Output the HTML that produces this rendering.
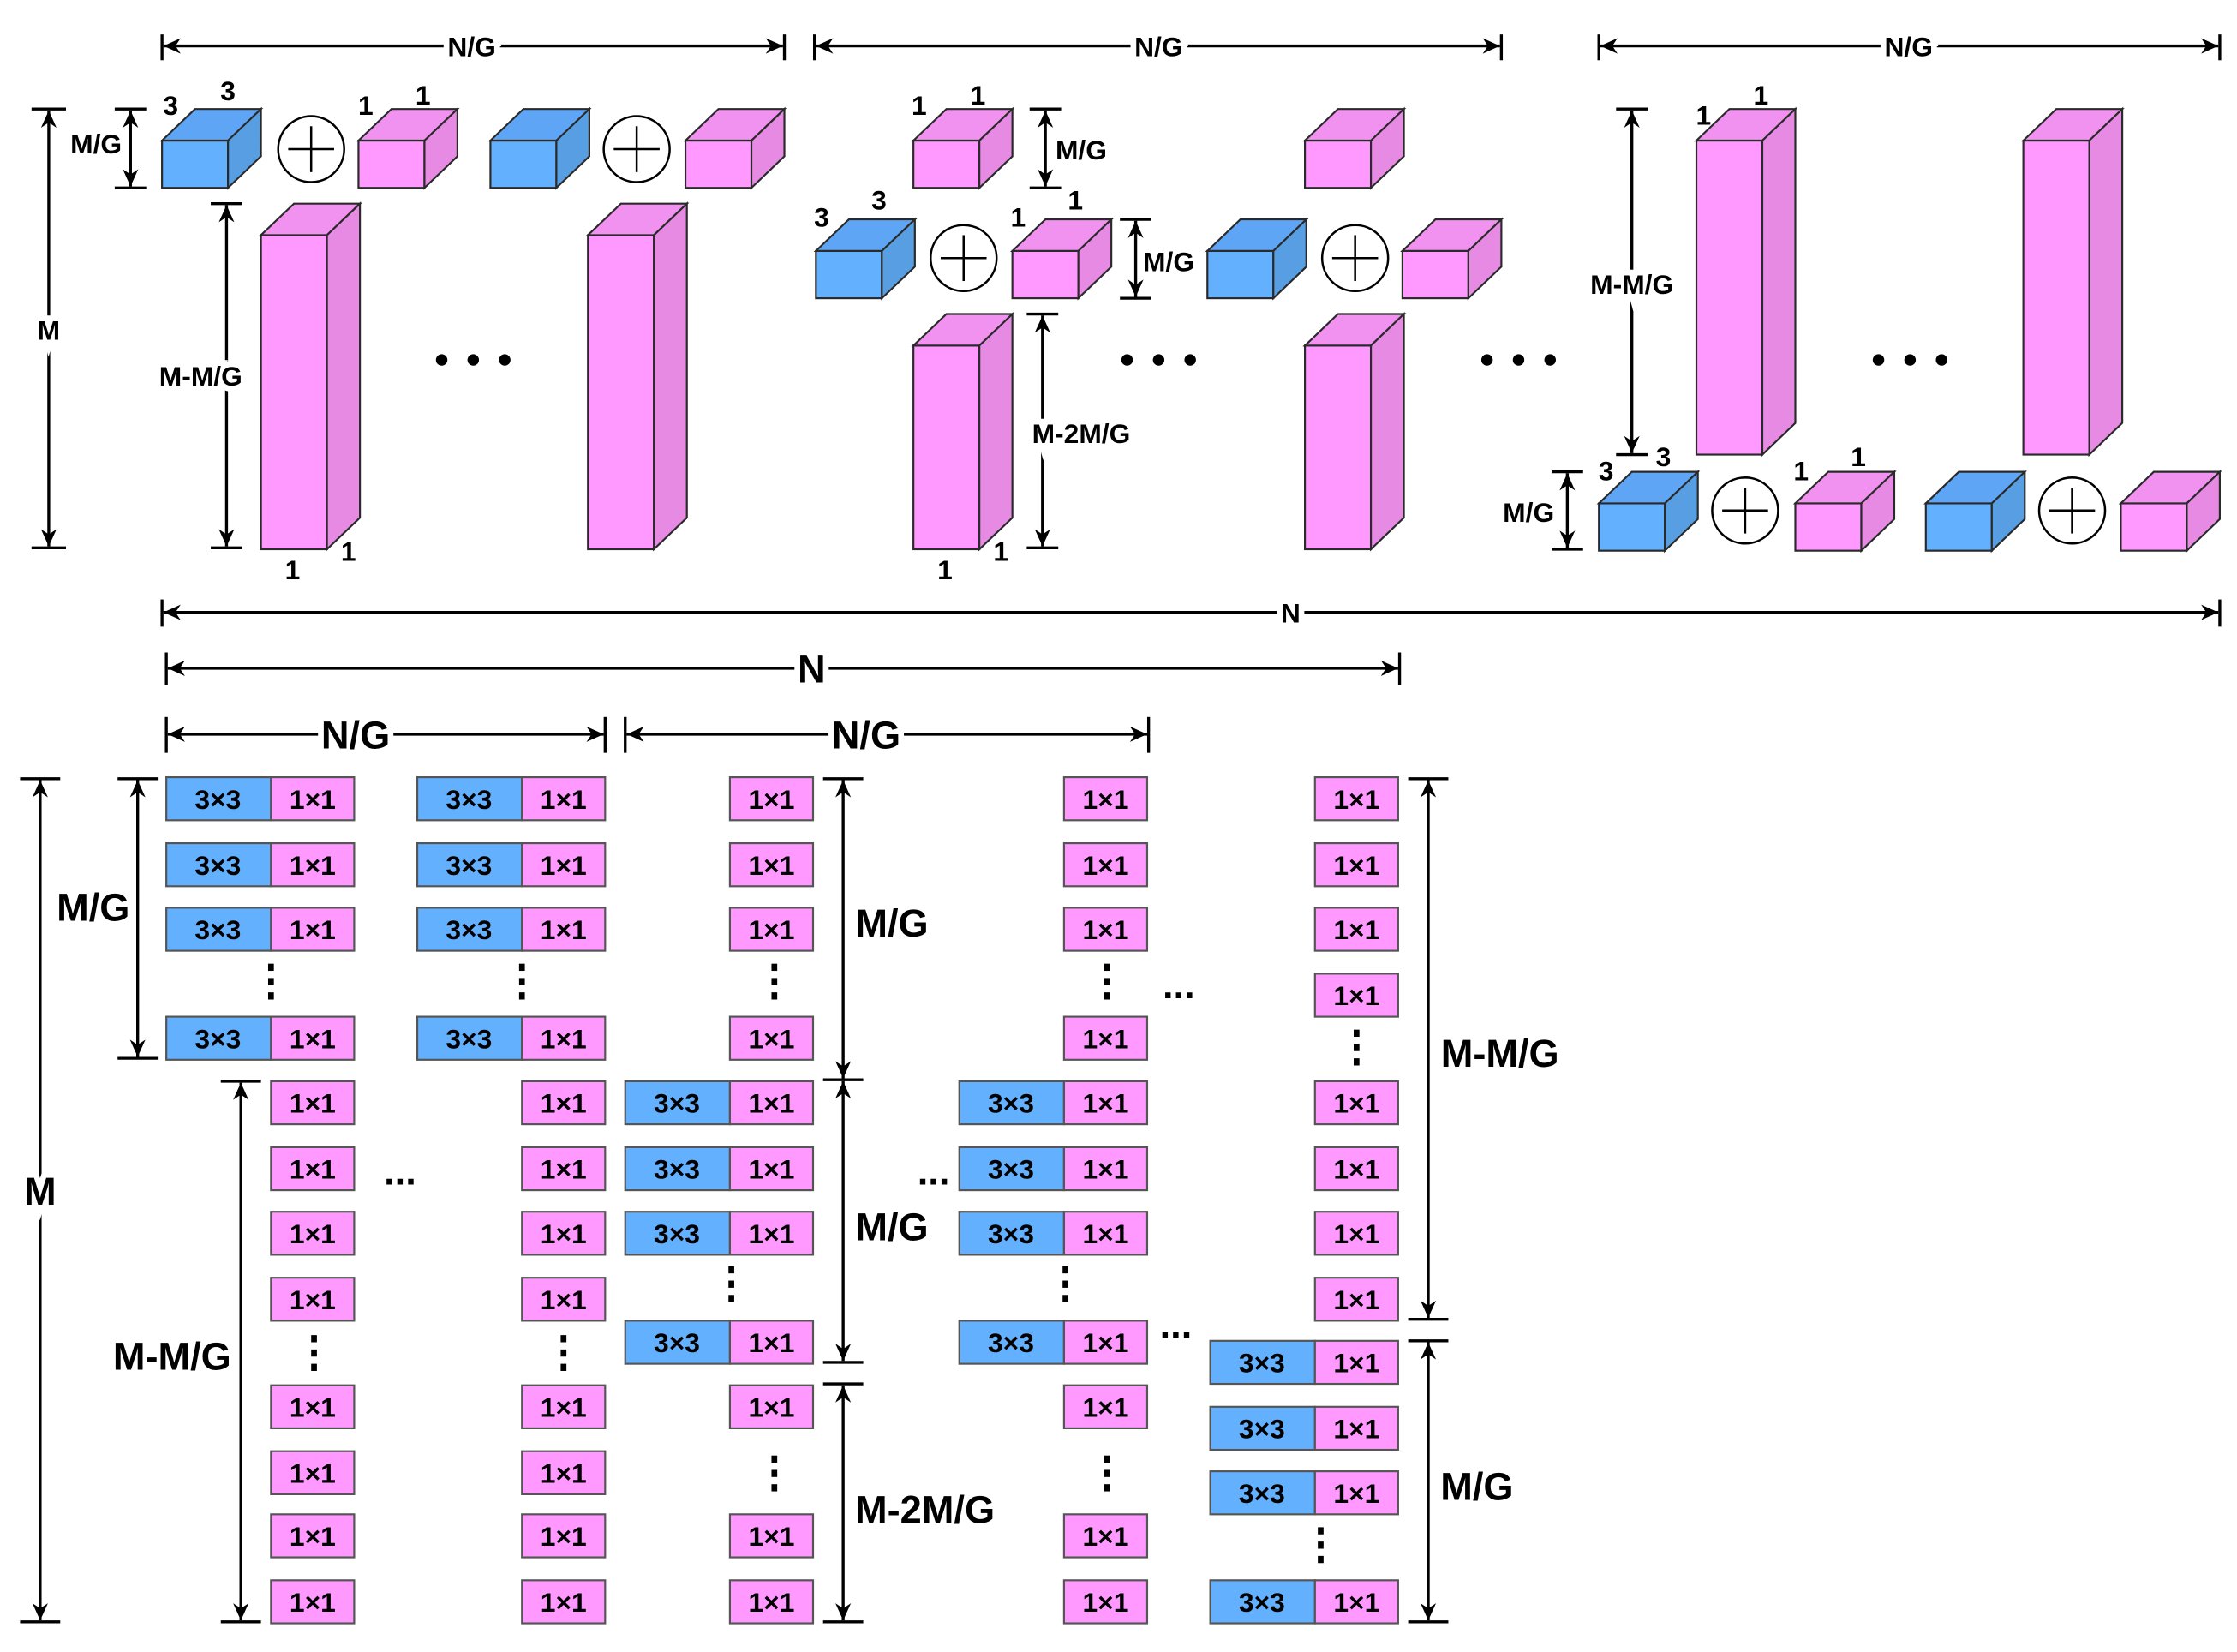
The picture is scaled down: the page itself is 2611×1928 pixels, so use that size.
<!DOCTYPE html>
<html><head><meta charset="utf-8"><style>
html,body{margin:0;padding:0;background:#fff;}
svg{display:block;}
text{font-family:"Liberation Sans",Arial,sans-serif;font-weight:bold;fill:#000;}
.t{font-size:19px;text-anchor:middle;}
.c{font-size:19px;text-anchor:middle;}
.L{font-size:27px;text-anchor:middle;}
.bg{paint-order:stroke;stroke:#fff;stroke-width:8px;}
.ln{stroke:#000;stroke-width:2;fill:none;}
</style></head><body>
<svg width="2611" height="1928" viewBox="0 0 1560 1152" preserveAspectRatio="none" xmlns="http://www.w3.org/2000/svg">
<defs>
<marker id="a" viewBox="0 0 10 10" refX="10" refY="5" markerWidth="6" markerHeight="6" orient="auto-start-reverse"><path d="M0,0.5 L10,5 L0,9.5 L3,5z" fill="#000"/></marker>
<g id="bc" stroke="#2a2a2a" stroke-width="1.3">
<rect x="0" y="0" width="46" height="33" fill="#63B0FF"/>
<polygon points="0,0 23,-22 69,-22 46,0" fill="#5EA6F5"/>
<polygon points="46,0 69,-22 69,11 46,33" fill="#579FE2"/>
</g>
<g id="pc" stroke="#2a2a2a" stroke-width="1.3">
<rect x="0" y="0" width="46" height="33" fill="#FF99FF"/>
<polygon points="0,0 23,-22 69,-22 46,0" fill="#F192F0"/>
<polygon points="46,0 69,-22 69,11 46,33" fill="#E68AE4"/>
</g>
<g id="pt" stroke="#2a2a2a" stroke-width="1.3">
<rect x="0" y="0" width="46" height="219" fill="#FF99FF"/>
<polygon points="0,0 23,-22 69,-22 46,0" fill="#F192F0"/>
<polygon points="46,0 69,-22 69,197 46,219" fill="#E68AE4"/>
</g>
<g id="ps" stroke="#2a2a2a" stroke-width="1.3">
<rect x="0" y="0" width="46" height="142" fill="#FF99FF"/>
<polygon points="0,0 23,-22 69,-22 46,0" fill="#F192F0"/>
<polygon points="46,0 69,-22 69,120 46,142" fill="#E68AE4"/>
</g>
<g id="op" stroke="#000" stroke-width="1.5" fill="#fff">
<circle cx="0" cy="0" r="23"/>
<line x1="-16" y1="0" x2="16" y2="0"/><line x1="0" y1="-16" x2="0" y2="16"/>
</g>
<g id="pk"><rect x="0" y="-15" width="58" height="30" fill="#FF99FF" stroke="#555" stroke-width="1.3"/></g>
<g id="bl"><rect x="-73" y="-15" width="73" height="30" fill="#63B0FF" stroke="#555" stroke-width="1.3"/></g>
<g id="vd" fill="#000"><rect x="-2" y="-12" width="4" height="5"/><rect x="-2" y="-2" width="4" height="5"/><rect x="-2" y="8" width="4" height="5"/></g>
<g id="dots3" fill="#000"><circle cx="0" cy="0" r="4"/><circle cx="22" cy="0" r="4"/><circle cx="44" cy="0" r="4"/></g>
</defs>

<!-- ========== TOP ========== -->
<!-- N/G horizontal dims -->
<g class="ln">
<line x1="113" y1="24" x2="113" y2="42"/><line x1="547" y1="24" x2="547" y2="42"/>
<line x1="114" y1="32" x2="546" y2="32" marker-start="url(#a)" marker-end="url(#a)"/>
<line x1="568" y1="24" x2="568" y2="42"/><line x1="1047" y1="24" x2="1047" y2="42"/>
<line x1="569" y1="32" x2="1046" y2="32" marker-start="url(#a)" marker-end="url(#a)"/>
<line x1="1115" y1="24" x2="1115" y2="42"/><line x1="1548" y1="24" x2="1548" y2="42"/>
<line x1="1116" y1="32" x2="1547" y2="32" marker-start="url(#a)" marker-end="url(#a)"/>
<line x1="113" y1="418" x2="113" y2="437"/><line x1="1548" y1="418" x2="1548" y2="437"/>
<line x1="114" y1="427" x2="1547" y2="427" marker-start="url(#a)" marker-end="url(#a)"/>
</g>
<text class="t bg" x="329" y="39">N/G</text>
<text class="t bg" x="808" y="39">N/G</text>
<text class="t bg" x="1331" y="39">N/G</text>
<text class="t bg" x="900" y="434">N</text>

<!-- Group 1 -->
<g class="ln">
<line x1="22" y1="76" x2="46" y2="76"/><line x1="22" y1="382" x2="46" y2="382"/>
<line x1="34" y1="77" x2="34" y2="381" marker-start="url(#a)" marker-end="url(#a)"/>
<line x1="80" y1="76" x2="102" y2="76"/><line x1="80" y1="131" x2="102" y2="131"/>
<line x1="91" y1="77" x2="91" y2="130" marker-start="url(#a)" marker-end="url(#a)"/>
<line x1="147" y1="142" x2="169" y2="142"/><line x1="147" y1="382" x2="169" y2="382"/>
<line x1="158" y1="143" x2="158" y2="381" marker-start="url(#a)" marker-end="url(#a)"/>
</g>
<text class="t bg" x="34" y="237">M</text>
<text class="t bg" x="67" y="107">M/G</text>
<text class="t bg" x="140" y="269">M-M/G</text>
<use href="#bc" x="113" y="98"/><use href="#op" x="217" y="104"/><use href="#pc" x="250" y="98"/>
<use href="#bc" x="342" y="98"/><use href="#op" x="444" y="104"/><use href="#pc" x="478" y="98"/>
<use href="#pt" x="182" y="164"/><use href="#pt" x="410" y="164"/>
<text class="t" x="119" y="80">3</text><text class="t" x="159" y="70">3</text>
<text class="t" x="255" y="80">1</text><text class="t" x="295" y="73">1</text>
<text class="t" x="204" y="404">1</text><text class="t" x="243" y="391">1</text>
<use href="#dots3" x="308" y="251"/>

<!-- Group 2 -->
<use href="#pc" x="637" y="98"/>
<g class="ln">
<line x1="718" y1="76" x2="740" y2="76"/><line x1="718" y1="131" x2="740" y2="131"/>
<line x1="729" y1="77" x2="729" y2="130" marker-start="url(#a)" marker-end="url(#a)"/>
<line x1="781" y1="153" x2="803" y2="153"/><line x1="781" y1="208" x2="803" y2="208"/>
<line x1="792" y1="154" x2="792" y2="207" marker-start="url(#a)" marker-end="url(#a)"/>
<line x1="716" y1="219" x2="738" y2="219"/><line x1="716" y1="382" x2="738" y2="382"/>
<line x1="727" y1="220" x2="727" y2="381" marker-start="url(#a)" marker-end="url(#a)"/>
</g>
<text class="t" x="754" y="111">M/G</text>
<text class="t bg" x="815" y="189">M/G</text>
<text class="t bg" x="754" y="309">M-2M/G</text>
<text class="t" x="641" y="80">1</text><text class="t" x="682" y="73">1</text>
<use href="#bc" x="569" y="175"/><use href="#op" x="672" y="180"/><use href="#pc" x="706" y="175"/>
<text class="t" x="573" y="158">3</text><text class="t" x="613" y="146">3</text>
<text class="t" x="710" y="158">1</text><text class="t" x="750" y="146">1</text>
<use href="#ps" x="637" y="241"/>
<text class="t" x="659" y="404">1</text><text class="t" x="698" y="391">1</text>
<use href="#pc" x="910" y="98"/>
<use href="#bc" x="842" y="175"/><use href="#op" x="945" y="180"/><use href="#pc" x="978" y="175"/>
<use href="#ps" x="910" y="241"/>
<use href="#dots3" x="786" y="251"/>
<use href="#dots3" x="1037" y="251"/>

<!-- Group 3 -->
<use href="#pt" x="1183" y="98"/><use href="#pt" x="1411" y="98"/>
<text class="t" x="1188" y="87">1</text><text class="t" x="1228" y="73">1</text>
<g class="ln">
<line x1="1127" y1="76" x2="1149" y2="76"/><line x1="1127" y1="317" x2="1149" y2="317"/>
<line x1="1138" y1="77" x2="1138" y2="316" marker-start="url(#a)" marker-end="url(#a)"/>
<line x1="1082" y1="329" x2="1104" y2="329"/><line x1="1082" y1="383" x2="1104" y2="383"/>
<line x1="1093" y1="330" x2="1093" y2="382" marker-start="url(#a)" marker-end="url(#a)"/>
</g>
<text class="t bg" x="1138" y="205">M-M/G</text>
<text class="t" x="1066" y="364">M/G</text>
<use href="#bc" x="1115" y="351"/><use href="#op" x="1217" y="356"/><use href="#pc" x="1252" y="351"/>
<use href="#bc" x="1343" y="351"/><use href="#op" x="1445" y="356"/><use href="#pc" x="1479" y="351"/>
<text class="t" x="1120" y="335">3</text><text class="t" x="1160" y="325">3</text>
<text class="t" x="1256" y="335">1</text><text class="t" x="1296" y="325">1</text>
<use href="#dots3" x="1310" y="251"/>

<!-- ========== BOTTOM ========== -->
<g class="ln">
<line x1="116" y1="455" x2="116" y2="478"/><line x1="976" y1="455" x2="976" y2="478"/>
<line x1="117" y1="466" x2="975" y2="466" marker-start="url(#a)" marker-end="url(#a)"/>
<line x1="116" y1="500" x2="116" y2="525"/><line x1="422" y1="500" x2="422" y2="525"/>
<line x1="117" y1="512" x2="421" y2="512" marker-start="url(#a)" marker-end="url(#a)"/>
<line x1="436" y1="500" x2="436" y2="525"/><line x1="801" y1="500" x2="801" y2="525"/>
<line x1="437" y1="512" x2="800" y2="512" marker-start="url(#a)" marker-end="url(#a)"/>
</g>
<text class="L bg" x="566" y="476">N</text>
<text class="L bg" x="248" y="522">N/G</text>
<text class="L bg" x="604" y="522">N/G</text>

<!-- vertical dims -->
<g class="ln">
<line x1="14" y1="543" x2="42" y2="543"/><line x1="14" y1="1131" x2="42" y2="1131"/>
<line x1="28" y1="544" x2="28" y2="1130" marker-start="url(#a)" marker-end="url(#a)"/>
<line x1="82" y1="543" x2="110" y2="543"/><line x1="82" y1="738" x2="110" y2="738"/>
<line x1="96" y1="544" x2="96" y2="737" marker-start="url(#a)" marker-end="url(#a)"/>
<line x1="154" y1="754" x2="182" y2="754"/><line x1="154" y1="1131" x2="182" y2="1131"/>
<line x1="168" y1="755" x2="168" y2="1130" marker-start="url(#a)" marker-end="url(#a)"/>
<line x1="574" y1="543" x2="602" y2="543"/><line x1="574" y1="753" x2="602" y2="753"/>
<line x1="588" y1="544" x2="588" y2="752" marker-start="url(#a)" marker-end="url(#a)"/>
<line x1="588" y1="754" x2="588" y2="949" marker-start="url(#a)" marker-end="url(#a)"/>
<line x1="574" y1="950" x2="602" y2="950"/>
<line x1="574" y1="965" x2="602" y2="965"/><line x1="574" y1="1131" x2="602" y2="1131"/>
<line x1="588" y1="966" x2="588" y2="1130" marker-start="url(#a)" marker-end="url(#a)"/>
<line x1="982" y1="543" x2="1010" y2="543"/><line x1="982" y1="920" x2="1010" y2="920"/>
<line x1="996" y1="544" x2="996" y2="919" marker-start="url(#a)" marker-end="url(#a)"/>
<line x1="982" y1="935" x2="1010" y2="935"/><line x1="982" y1="1131" x2="1010" y2="1131"/>
<line x1="996" y1="936" x2="996" y2="1130" marker-start="url(#a)" marker-end="url(#a)"/>
</g>
<text class="L bg" x="28" y="840">M</text>
<text class="L" x="65" y="642">M/G</text>
<text class="L bg" x="120" y="955">M-M/G</text>
<text class="L" x="622" y="653">M/G</text>
<text class="L" x="622" y="865">M/G</text>
<text class="L" x="645" y="1062">M-2M/G</text>
<text class="L" x="1046" y="744">M-M/G</text>
<text class="L" x="1030" y="1046">M/G</text>

<!-- Column 1 (pink x=189) -->
<g>
<use href="#bl" x="189" y="557"/><use href="#pk" x="189" y="557"/>
<use href="#bl" x="189" y="603"/><use href="#pk" x="189" y="603"/>
<use href="#bl" x="189" y="648"/><use href="#pk" x="189" y="648"/>
<use href="#bl" x="189" y="724"/><use href="#pk" x="189" y="724"/>
<use href="#pk" x="189" y="769"/><use href="#pk" x="189" y="815"/><use href="#pk" x="189" y="860"/><use href="#pk" x="189" y="906"/>
<use href="#pk" x="189" y="981"/><use href="#pk" x="189" y="1027"/><use href="#pk" x="189" y="1071"/><use href="#pk" x="189" y="1117"/>
</g>
<text class="c" x="152" y="564">3×3</text><text class="c" x="218" y="564">1×1</text>
<text class="c" x="152" y="610">3×3</text><text class="c" x="218" y="610">1×1</text>
<text class="c" x="152" y="655">3×3</text><text class="c" x="218" y="655">1×1</text>
<text class="c" x="152" y="731">3×3</text><text class="c" x="218" y="731">1×1</text>
<text class="c" x="218" y="776">1×1</text><text class="c" x="218" y="822">1×1</text><text class="c" x="218" y="867">1×1</text><text class="c" x="218" y="913">1×1</text>
<text class="c" x="218" y="988">1×1</text><text class="c" x="218" y="1034">1×1</text><text class="c" x="218" y="1078">1×1</text><text class="c" x="218" y="1124">1×1</text>
<use href="#vd" x="189" y="684"/><use href="#vd" x="219" y="943"/>

<!-- Column 2 (pink x=364) -->
<g>
<use href="#bl" x="364" y="557"/><use href="#pk" x="364" y="557"/>
<use href="#bl" x="364" y="603"/><use href="#pk" x="364" y="603"/>
<use href="#bl" x="364" y="648"/><use href="#pk" x="364" y="648"/>
<use href="#bl" x="364" y="724"/><use href="#pk" x="364" y="724"/>
<use href="#pk" x="364" y="769"/><use href="#pk" x="364" y="815"/><use href="#pk" x="364" y="860"/><use href="#pk" x="364" y="906"/>
<use href="#pk" x="364" y="981"/><use href="#pk" x="364" y="1027"/><use href="#pk" x="364" y="1071"/><use href="#pk" x="364" y="1117"/>
</g>
<text class="c" x="327" y="564">3×3</text><text class="c" x="393" y="564">1×1</text>
<text class="c" x="327" y="610">3×3</text><text class="c" x="393" y="610">1×1</text>
<text class="c" x="327" y="655">3×3</text><text class="c" x="393" y="655">1×1</text>
<text class="c" x="327" y="731">3×3</text><text class="c" x="393" y="731">1×1</text>
<text class="c" x="393" y="776">1×1</text><text class="c" x="393" y="822">1×1</text><text class="c" x="393" y="867">1×1</text><text class="c" x="393" y="913">1×1</text>
<text class="c" x="393" y="988">1×1</text><text class="c" x="393" y="1034">1×1</text><text class="c" x="393" y="1078">1×1</text><text class="c" x="393" y="1124">1×1</text>
<use href="#vd" x="364" y="684"/><use href="#vd" x="393" y="943"/>
<text class="L" x="279" y="826">...</text>

<!-- Column 3 (pink x=509) -->
<g>
<use href="#pk" x="509" y="557"/><use href="#pk" x="509" y="603"/><use href="#pk" x="509" y="648"/><use href="#pk" x="509" y="724"/>
<use href="#bl" x="509" y="769"/><use href="#pk" x="509" y="769"/>
<use href="#bl" x="509" y="815"/><use href="#pk" x="509" y="815"/>
<use href="#bl" x="509" y="860"/><use href="#pk" x="509" y="860"/>
<use href="#bl" x="509" y="936"/><use href="#pk" x="509" y="936"/>
<use href="#pk" x="509" y="981"/><use href="#pk" x="509" y="1071"/><use href="#pk" x="509" y="1117"/>
</g>
<text class="c" x="538" y="564">1×1</text><text class="c" x="538" y="610">1×1</text><text class="c" x="538" y="655">1×1</text><text class="c" x="538" y="731">1×1</text>
<text class="c" x="472" y="776">3×3</text><text class="c" x="538" y="776">1×1</text>
<text class="c" x="472" y="822">3×3</text><text class="c" x="538" y="822">1×1</text>
<text class="c" x="472" y="867">3×3</text><text class="c" x="538" y="867">1×1</text>
<text class="c" x="472" y="943">3×3</text><text class="c" x="538" y="943">1×1</text>
<text class="c" x="538" y="988">1×1</text><text class="c" x="538" y="1078">1×1</text><text class="c" x="538" y="1124">1×1</text>
<use href="#vd" x="540" y="684"/><use href="#vd" x="510" y="895"/><use href="#vd" x="540" y="1027"/>

<!-- Column 4 (pink x=742) -->
<g>
<use href="#pk" x="742" y="557"/><use href="#pk" x="742" y="603"/><use href="#pk" x="742" y="648"/><use href="#pk" x="742" y="724"/>
<use href="#bl" x="742" y="769"/><use href="#pk" x="742" y="769"/>
<use href="#bl" x="742" y="815"/><use href="#pk" x="742" y="815"/>
<use href="#bl" x="742" y="860"/><use href="#pk" x="742" y="860"/>
<use href="#bl" x="742" y="936"/><use href="#pk" x="742" y="936"/>
<use href="#pk" x="742" y="981"/><use href="#pk" x="742" y="1071"/><use href="#pk" x="742" y="1117"/>
</g>
<text class="c" x="771" y="564">1×1</text><text class="c" x="771" y="610">1×1</text><text class="c" x="771" y="655">1×1</text><text class="c" x="771" y="731">1×1</text>
<text class="c" x="705" y="776">3×3</text><text class="c" x="771" y="776">1×1</text>
<text class="c" x="705" y="822">3×3</text><text class="c" x="771" y="822">1×1</text>
<text class="c" x="705" y="867">3×3</text><text class="c" x="771" y="867">1×1</text>
<text class="c" x="705" y="943">3×3</text><text class="c" x="771" y="943">1×1</text>
<text class="c" x="771" y="988">1×1</text><text class="c" x="771" y="1078">1×1</text><text class="c" x="771" y="1124">1×1</text>
<use href="#vd" x="772" y="684"/><use href="#vd" x="743" y="895"/><use href="#vd" x="772" y="1027"/>
<text class="L" x="651" y="826">...</text>
<text class="L" x="822" y="696">...</text>
<text class="L" x="820" y="933">...</text>

<!-- Column 5 (pink x=917) -->
<g>
<use href="#pk" x="917" y="557"/><use href="#pk" x="917" y="603"/><use href="#pk" x="917" y="648"/><use href="#pk" x="917" y="694"/>
<use href="#pk" x="917" y="769"/><use href="#pk" x="917" y="815"/><use href="#pk" x="917" y="860"/><use href="#pk" x="917" y="906"/>
<use href="#bl" x="917" y="950"/><use href="#pk" x="917" y="950"/>
<use href="#bl" x="917" y="996"/><use href="#pk" x="917" y="996"/>
<use href="#bl" x="917" y="1041"/><use href="#pk" x="917" y="1041"/>
<use href="#bl" x="917" y="1117"/><use href="#pk" x="917" y="1117"/>
</g>
<text class="c" x="946" y="564">1×1</text><text class="c" x="946" y="610">1×1</text><text class="c" x="946" y="655">1×1</text><text class="c" x="946" y="701">1×1</text>
<text class="c" x="946" y="776">1×1</text><text class="c" x="946" y="822">1×1</text><text class="c" x="946" y="867">1×1</text><text class="c" x="946" y="913">1×1</text>
<text class="c" x="880" y="957">3×3</text><text class="c" x="946" y="957">1×1</text>
<text class="c" x="880" y="1003">3×3</text><text class="c" x="946" y="1003">1×1</text>
<text class="c" x="880" y="1048">3×3</text><text class="c" x="946" y="1048">1×1</text>
<text class="c" x="880" y="1124">3×3</text><text class="c" x="946" y="1124">1×1</text>
<use href="#vd" x="946" y="730"/><use href="#vd" x="921" y="1077"/>
</svg>
</body></html>
